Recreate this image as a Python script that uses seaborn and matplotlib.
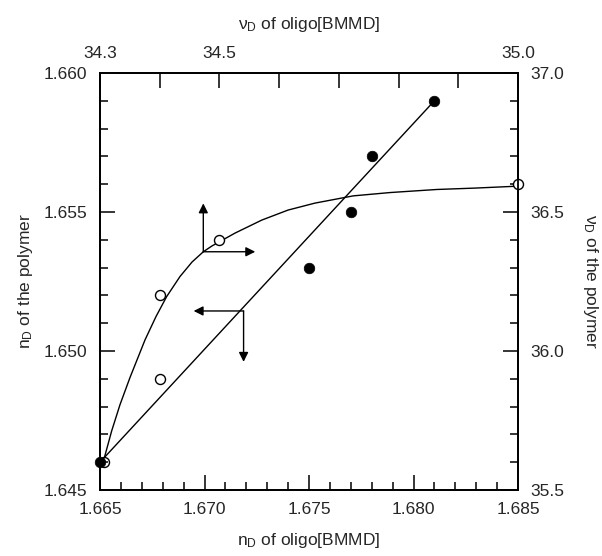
import matplotlib
matplotlib.use("Agg")
import matplotlib.pyplot as plt
import seaborn as sns
import pandas as pd

# ---- data: refractive index n_D (bottom / left axes) ----
nd_oligo = [1.665, 1.675, 1.677, 1.678, 1.681]
nd_polymer = [1.646, 1.653, 1.655, 1.657, 1.659]
nd_line_x = [1.665, 1.681]
nd_line_y = [1.646, 1.659]

# ---- data: Abbe number nu_D (top / right axes) ----
vd_oligo = [34.306, 34.4, 34.4, 34.5, 35.0]
vd_polymer = [35.6, 35.9, 36.2, 36.4, 36.6]
# smooth guide curve
vd_curve_x = [34.3055, 34.3196, 34.3335, 34.3503, 34.3754, 34.3938, 34.4117,
              34.4340, 34.4541, 34.4730, 34.4876, 34.5010, 34.5260, 34.5710,
              34.6150, 34.6600, 34.7240, 34.7860, 34.8640, 34.9280, 35.0000]
vd_curve_y = [35.602, 35.713, 35.807, 35.905, 36.040, 36.124, 36.196,
              36.268, 36.320, 36.357, 36.378, 36.394, 36.424, 36.471,
              36.507, 36.532, 36.558, 36.570, 36.581, 36.586, 36.593]

# ---- axis ticks ----
bottom_ticks = [1.665, 1.670, 1.675, 1.680, 1.685]
bottom_labels = ["1.665", "1.670", "1.675", "1.680", "1.685"]
left_ticks = [1.645, 1.650, 1.655, 1.660]
left_labels = ["1.645", "1.650", "1.655", "1.660"]
top_ticks = [34.3, 34.4, 34.5, 34.6, 34.7, 34.8, 34.9, 35.0]
top_labels = ["34.3", "", "34.5", "", "", "", "", "35.0"]
right_ticks = [35.5, 36.0, 36.5, 37.0]
right_labels = ["35.5", "36.0", "36.5", "37.0"]

# ---- arrow annotations (point to the axes each curve belongs to) ----
arrow_nd_start = (1.67187, 1.65144)
arrow_nd_left = (1.66948, 1.65144)
arrow_nd_down = (1.67187, 1.64961)
arrow_vd_start = (34.473, 36.357)
arrow_vd_up = (34.473, 36.531)
arrow_vd_right = (34.56, 36.357)

sns.set_style("ticks")
plt.rcParams["font.family"] = ["Liberation Sans", "DejaVu Sans"]
plt.rcParams["mathtext.default"] = "regular"
plt.rcParams["axes.linewidth"] = 1.3

fig = plt.figure(figsize=(6.02, 5.56), dpi=100)
rect = [100 / 602, 66 / 556, 418 / 602, 417 / 556]
ax2 = fig.add_axes(rect, zorder=1)
ax = fig.add_axes(rect, zorder=2)
ax.patch.set_visible(False)

df_nd = pd.DataFrame({"x": nd_oligo, "y": nd_polymer})
df_nd_line = pd.DataFrame({"x": nd_line_x, "y": nd_line_y})
df_vd = pd.DataFrame({"x": vd_oligo, "y": vd_polymer})
df_vd_curve = pd.DataFrame({"x": vd_curve_x, "y": vd_curve_y})

# main axes: n_D
sns.lineplot(data=df_nd_line, x="x", y="y", ax=ax, color="black", lw=1.0,
             sort=False, estimator=None)
sns.scatterplot(data=df_nd, x="x", y="y", ax=ax, color="black", s=58,
                edgecolor="black", linewidth=0.5, zorder=5, clip_on=False)

# secondary axes: nu_D
sns.lineplot(data=df_vd_curve, x="x", y="y", ax=ax2, color="black", lw=1.0,
             sort=False, estimator=None)
sns.scatterplot(data=df_vd, x="x", y="y", ax=ax2, color="white", s=52,
                edgecolor="black", linewidth=1.0, zorder=5, clip_on=False)

arrow_kw = dict(arrowstyle="-|>", color="black", lw=1.0,
                mutation_scale=14, shrinkA=0, shrinkB=0)
ax.annotate("", xy=arrow_nd_left, xytext=arrow_nd_start, arrowprops=arrow_kw)
ax.annotate("", xy=arrow_nd_down, xytext=arrow_nd_start, arrowprops=arrow_kw)
ax2.annotate("", xy=arrow_vd_up, xytext=arrow_vd_start, arrowprops=arrow_kw)
ax2.annotate("", xy=arrow_vd_right, xytext=arrow_vd_start, arrowprops=arrow_kw)

# limits
ax.set_xlim(1.665, 1.685)
ax.set_ylim(1.645, 1.660)
ax2.set_xlim(34.3, 35.0)
ax2.set_ylim(35.5, 37.0)

fs = 12.5
# bottom/left ticks
ax.set_xticks(bottom_ticks)
ax.set_xticklabels(bottom_labels)
ax.set_yticks(left_ticks)
ax.set_yticklabels(left_labels)
ax.set_xticks([1.665 + 0.001 * i for i in range(21)], minor=True)
ax.set_yticks([1.645 + 0.001 * i for i in range(16)], minor=True)
ax.tick_params(which="major", direction="in", length=11, width=1.3,
               labelsize=fs, pad=9, top=False, right=False)
ax.tick_params(which="minor", direction="in", length=5.5, width=1.3,
               top=False, right=False)

# top/right ticks
ax2.xaxis.tick_top()
ax2.yaxis.tick_right()
ax2.set_xticks(top_ticks)
ax2.set_xticklabels(top_labels)
ax2.set_yticks(right_ticks)
ax2.set_yticklabels(right_labels)
ax2.set_yticks([35.5 + 0.1 * i for i in range(16)], minor=True)
ax2.tick_params(which="major", direction="in", length=11, width=1.3,
                labelsize=fs, pad=9, bottom=False, left=False)
ax2.tick_params(which="minor", direction="in", length=5.5, width=1.3,
                bottom=False, left=False)
ax2.xaxis.set_label_position("top")
ax2.yaxis.set_label_position("right")

ax.set_xlabel("n$_D$ of oligo[BMMD]", fontsize=fs, labelpad=10)
ax.set_ylabel("n$_D$ of the polymer", fontsize=fs, labelpad=6)
ax2.set_xlabel("\u03bd$_D$ of oligo[BMMD]", fontsize=fs, labelpad=12)
ax2.set_ylabel("\u03bd$_D$ of the polymer", fontsize=fs, labelpad=12,
               rotation=-90, va="bottom")

for a in (ax, ax2):
    for s in a.spines.values():
        s.set_visible(True)
        s.set_linewidth(1.3)
        s.set_color("black")

fig.savefig("out.png", dpi=100, facecolor="white")
